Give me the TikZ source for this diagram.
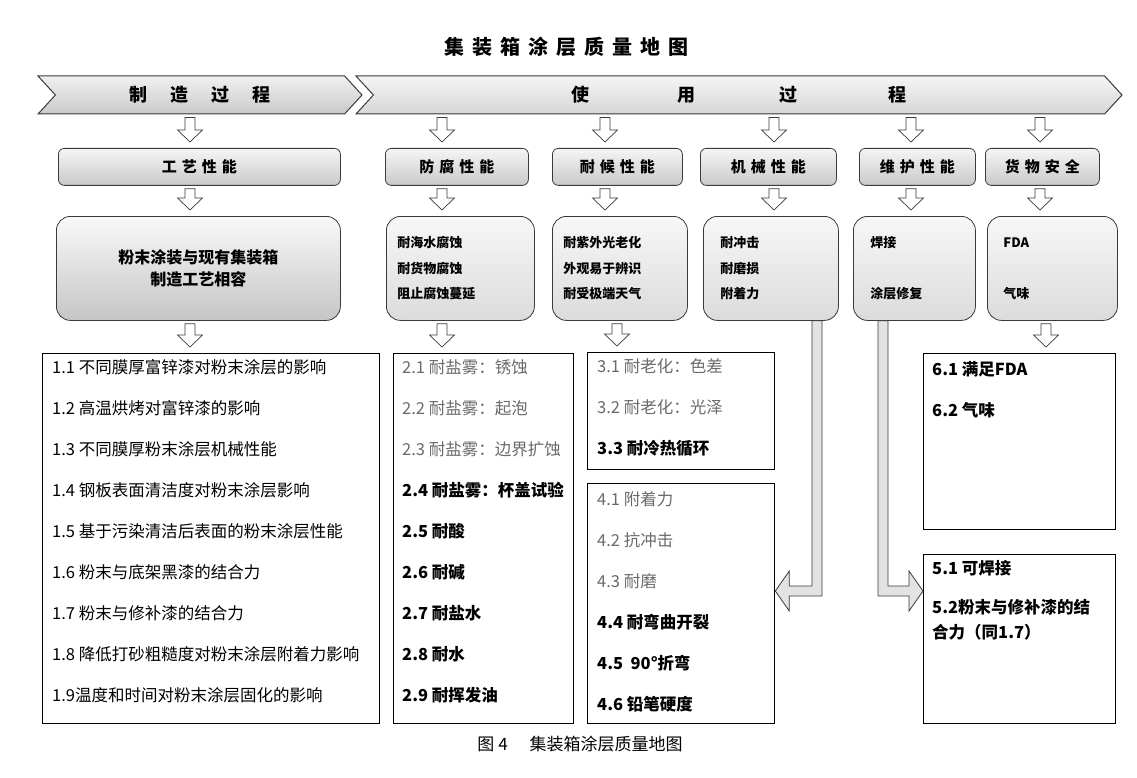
\documentclass[tikz,border=0pt]{standalone}
\usepackage{fontspec}
\setmainfont{Noto Sans CJK SC}
\usepackage{xcolor}
\usepackage{tikz}
\usetikzlibrary{positioning,shapes.symbols,calc}
\definecolor{LineDark}{HTML}{3A3A3A}
\definecolor{TextGray}{HTML}{6A6A6A}
\newcommand\catgap{\hspace{5pt}}
% hollow down arrow between two points
\newcommand\fatdown[2]{%
  \draw[fat] let \p1=#1, \p2=#2 in
    (\x1-5pt,\y1-3pt) -- (\x1+5pt,\y1-3pt) -- (\x1+5pt,\y2+18pt)
    -- (\x1+12.5pt,\y2+18pt) -- (\x1,\y2+6pt) -- (\x1-12.5pt,\y2+18pt)
    -- (\x1-5pt,\y2+18pt) -- cycle;}
% bent arrows, down then left / right
\newcommand\bentleft[2]{%
  \draw[bent] let \p1=#1, \p2=#2 in
    (\x1-5pt,\y1) -- (\x1+5pt,\y1) -- (\x1+5pt,\y2-5pt) -- (\x2+14pt,\y2-5pt)
    -- (\x2+14pt,\y2-20pt) -- (\x2,\y2) -- (\x2+14pt,\y2+20pt)
    -- (\x2+14pt,\y2+5pt) -- (\x1-5pt,\y2+5pt) -- cycle;}
\newcommand\bentright[2]{%
  \draw[bent] let \p1=#1, \p2=#2 in
    (\x1-5pt,\y1) -- (\x1+5pt,\y1) -- (\x1+5pt,\y2+5pt) -- (\x2-14pt,\y2+5pt)
    -- (\x2-14pt,\y2+20pt) -- (\x2,\y2) -- (\x2-14pt,\y2-20pt)
    -- (\x2-14pt,\y2-5pt) -- (\x1-5pt,\y2-5pt) -- cycle;}

\begin{document}
\begin{tikzpicture}[x=1pt,y=-1pt,
    every node/.style={inner sep=0pt},
    banner/.style={shape=signal, signal from=west, signal to=east,
      signal pointer angle=95, draw=LineDark, line width=1pt,
      top color=gray!12, bottom color=gray!42, minimum height=38pt,
      font=\fontsize{18pt}{20pt}\selectfont\bfseries},
    catbox/.style={draw=LineDark, line width=0.8pt, rounded corners=6pt,
      top color=gray!8, bottom color=gray!42, minimum height=37pt,
      anchor=north west, font=\fontsize{15pt}{18pt}\selectfont\bfseries},
    infobox/.style={draw=LineDark, line width=0.8pt, rounded corners=14pt,
      top color=gray!6, bottom color=gray!28, minimum height=104pt,
      anchor=north west, align=left,
      font=\fontsize{13pt}{25.5pt}\selectfont\bfseries},
    listbox/.style={draw=black, line width=1.3pt, anchor=north west},
    listtxt/.style={align=left, font=\fontsize{16.5pt}{41pt}\selectfont},
    fat/.style={draw=LineDark, line width=0.7pt, fill=white},
    bent/.style={draw=LineDark, line width=0.8pt, fill=gray!22}]
  \useasboundingbox (0,0) rectangle (1137,778);

  % title and process banners
  \node[font=\fontsize{20pt}{24pt}\selectfont\bfseries] (title) at (566,47)
    {集\hspace{8pt}装\hspace{8pt}箱\hspace{8pt}涂\hspace{8pt}层\hspace{8pt}质\hspace{8pt}量\hspace{8pt}地\hspace{8pt}图};
  \node[banner, minimum width=324pt] (make) at (200,95)
    {制\hspace{23pt}造\hspace{23pt}过\hspace{23pt}程};
  \node[banner, minimum width=766pt, top color=gray!8, bottom color=gray!32]
    (use) at (739,95)
    {使\hspace{88pt}用\hspace{84pt}过\hspace{91pt}程};

  % arrow columns
  \coordinate (ax1) at (190,0);  \coordinate (ax2) at (442,0);
  \coordinate (ax3) at (605,0);  \coordinate (ax4) at (774,0);
  \coordinate (ax5) at (911,0);  \coordinate (ax6) at (1040,0);
  \coordinate (ax3b) at (617,0); \coordinate (ax6b) at (1046,0);

  % property headers
  \node[catbox, minimum width=282pt] (cat1) at (58,148) {工\catgap 艺\catgap 性\catgap 能};
  \node[catbox, minimum width=143pt] (cat2) at (385,148) {防\catgap 腐\catgap 性\catgap 能};
  \node[catbox, minimum width=130pt] (cat3) at (552,148) {耐\catgap 候\catgap 性\catgap 能};
  \node[catbox, minimum width=136pt] (cat4) at (700,148) {机\catgap 械\catgap 性\catgap 能};
  \node[catbox, minimum width=116pt] (cat5) at (859,148) {维\catgap 护\catgap 性\catgap 能};
  \node[catbox, minimum width=114pt] (cat6) at (985,148) {货\catgap 物\catgap 安\catgap 全};

  % property contents
  \node[infobox, minimum width=284pt, align=center, top color=gray!5,
    bottom color=gray!45, font=\fontsize{16pt}{22pt}\selectfont\bfseries]
    (info1) at (56,216) {粉末涂装与现有集装箱\\制造工艺相容};
  \node[infobox, inner xsep=11pt, text width=126pt] (info2) at (386,216)
    {耐海水腐蚀\\耐货物腐蚀\\阻止腐蚀蔓延};
  \node[infobox, inner xsep=11pt, text width=113pt] (info3) at (552,216)
    {耐紫外光老化\\外观易于辨识\\耐受极端天气};
  \node[infobox, inner xsep=17pt, text width=101pt] (info4) at (703,216)
    {耐冲击\\耐磨损\\附着力};
  \node[infobox, inner xsep=17pt, text width=88pt] (info5) at (853,216)
    {焊接\\[25.5pt]涂层修复};
  \node[infobox, inner xsep=16pt, text width=98pt] (info6) at (987,216)
    {FDA\\[25.5pt]气味};

  % test item lists
  \node[listbox, minimum width=337pt, minimum height=370pt] (list1) at (42,353) {};
  \node[listbox, minimum width=180pt, minimum height=370pt] (list2) at (393,353) {};
  \node[listbox, minimum width=187pt, minimum height=117pt] (list3) at (587,352) {};
  \node[listbox, minimum width=187pt, minimum height=240pt] (list4) at (587,483) {};
  \node[listbox, minimum width=192pt, minimum height=176pt] (list6) at (923,353) {};
  \node[listbox, minimum width=192pt, minimum height=169pt] (list5) at (923,554) {};

  \node[listtxt, below right=6pt and 10pt of list1.north west] (items1)
    {1.1 不同膜厚富锌漆对粉末涂层的影响\\1.2 高温烘烤对富锌漆的影响\\
     1.3 不同膜厚粉末涂层机械性能\\1.4 钢板表面清洁度对粉末涂层影响\\
     1.5 基于污染清洁后表面的粉末涂层性能\\1.6 粉末与底架黑漆的结合力\\
     1.7 粉末与修补漆的结合力\\1.8 降低打砂粗糙度对粉末涂层附着力影响\\
     1.9温度和时间对粉末涂层固化的影响};
  \node[listtxt, below right=6pt and 9pt of list2.north west] (items2)
    {\textcolor{TextGray}{2.1 耐盐雾：锈蚀}\\\textcolor{TextGray}{2.2 耐盐雾：起泡}\\
     \textcolor{TextGray}{2.3 耐盐雾：边界扩蚀}\\\textbf{2.4 耐盐雾：杯盖试验}\\
     \textbf{2.5 耐酸}\\\textbf{2.6 耐碱}\\\textbf{2.7 耐盐水}\\
     \textbf{2.8 耐水}\\\textbf{2.9 耐挥发油}};
  \node[listtxt, below right=6pt and 10pt of list3.north west] (items3)
    {\textcolor{TextGray}{3.1 耐老化：色差}\\\textcolor{TextGray}{3.2 耐老化：光泽}\\
     \textbf{3.3 耐冷热循环}};
  \node[listtxt, below right=8pt and 10pt of list4.north west] (items4)
    {\textcolor{TextGray}{4.1 附着力}\\\textcolor{TextGray}{4.2 抗冲击}\\
     \textcolor{TextGray}{4.3 耐磨}\\\textbf{4.4 耐弯曲开裂}\\
     \textbf{4.5\ \ 90°折弯}\\\textbf{4.6 铅笔硬度}};
  \node[listtxt, below right=8pt and 9pt of list6.north west] (items6)
    {\textbf{6.1 满足FDA}\\\textbf{6.2 气味}};
  \node[listtxt, font=\fontsize{16.5pt}{25pt}\selectfont,
    below right=6pt and 9pt of list5.north west] (items5)
    {\textbf{5.1 可焊接}\\[14pt]\textbf{5.2粉末与修补漆的结}\\\textbf{合力（同1.7）}};

  % caption
  \node[font=\fontsize{17pt}{20pt}\selectfont] (caption) at (580,744)
    {图\hspace{4pt}4\hspace{22pt}集装箱涂层质量地图};

  % hollow arrows
  \fatdown{(ax1 |- make.south)}{(ax1 |- cat1.north)}
  \foreach \i in {2,...,6}{\fatdown{(ax\i |- use.south)}{(ax\i |- cat\i.north)}}
  \foreach \i in {1,...,6}{\fatdown{(ax\i |- cat\i.south)}{(ax\i |- info\i.north)}}
  \fatdown{(ax1 |- info1.south)}{(ax1 |- list1.north)}
  \fatdown{(ax2 |- info2.south)}{(ax2 |- list2.north)}
  \fatdown{(ax3b |- info3.south)}{(ax3b |- list3.north)}
  \fatdown{(ax6b |- info6.south)}{(ax6b |- list6.north)}

  % bent arrows to lists 4 and 5
  \coordinate (bend4) at (817,591);
  \coordinate (bend5) at (883,591);
  \bentleft{(bend4 |- info4.south)}{(list4.east |- bend4)}
  \bentright{(bend5 |- info5.south)}{(list5.west |- bend5)}
\end{tikzpicture}
\end{document}
